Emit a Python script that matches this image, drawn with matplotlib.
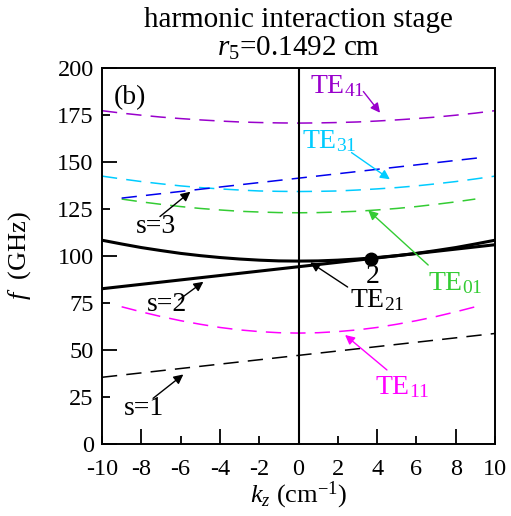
import matplotlib
matplotlib.use('Agg')
import matplotlib.pyplot as plt

plt.rcParams['font.family'] = ['Liberation Serif', 'DejaVu Serif']
plt.rcParams['mathtext.fontset'] = 'custom'
plt.rcParams['mathtext.rm'] = 'Liberation Serif'
plt.rcParams['mathtext.it'] = 'Liberation Serif:italic'

# dispersion curves (kz in cm^-1, f in GHz)
kz_full = [-10, -9, -8, -7, -6, -5, -4, -3, -2, -1, 0, 1, 2, 3, 4, 5, 6, 7, 8, 9, 10]
kz_part = [-9, -8, -7, -6, -5, -4, -3, -2, -1, 0, 1, 2, 3, 4, 5, 6, 7, 8, 9]

te41 = [177.3, 176.0, 174.9, 173.9, 173.1, 172.4, 171.8, 171.3, 171.0, 170.8, 170.7,
        170.8, 171.0, 171.3, 171.8, 172.4, 173.1, 173.9, 174.9, 176.0, 177.3]
te31 = [142.5, 141.0, 139.6, 138.4, 137.3, 136.4, 135.7, 135.1, 134.6, 134.4, 134.3,
        134.4, 134.6, 135.1, 135.7, 136.4, 137.3, 138.4, 139.6, 141.0, 142.5]
te21 = [108.4, 106.4, 104.5, 102.9, 101.4, 100.2, 99.2, 98.4, 97.8, 97.4, 97.3,
        97.4, 97.8, 98.4, 99.2, 100.2, 101.4, 102.9, 104.5, 106.4, 108.4]
te01 = [130.3, 128.8, 127.5, 126.3, 125.3, 124.5, 123.8, 123.4, 123.1, 123.0,
        123.1, 123.4, 123.8, 124.5, 125.3, 126.3, 127.5, 128.8, 130.3]
te11 = [73.0, 70.3, 67.8, 65.6, 63.7, 62.0, 60.7, 59.8, 59.2, 59.0,
        59.2, 59.8, 60.7, 62.0, 63.7, 65.6, 67.8, 70.3, 73.0]

# beam (cyclotron harmonic) lines
s1_kz, s1_f = [-10, 10], [35.5, 58.8]
s2_kz, s2_f = [-10, 10], [82.6, 106.0]
s3_kz, s3_f = [-9, 9.5], [130.8, 152.6]

# interaction point
pt_kz, pt_f = 3.7, 98.6

fig = plt.figure(figsize=(5.11, 5.16), dpi=100)
ax = fig.add_axes([0.1996, 0.1395, 0.7691, 0.7287])

dash = (0, (10, 6))
ax.plot(kz_full, te41, color='#9900cc', lw=1.1, ls=dash)
ax.plot(kz_full, te31, color='#00ccff', lw=1.1, ls=dash)
ax.plot(kz_part, te01, color='#33cc33', lw=1.1, ls=dash)
ax.plot(kz_part, te11, color='#ff00ff', lw=1.1, ls=dash)
ax.plot(s3_kz, s3_f, color='#0000ee', lw=1.1, ls=dash)
ax.plot(s1_kz, s1_f, color='black', lw=1.1, ls=dash)
ax.plot(kz_full, te21, color='black', lw=2.2)
ax.plot(s2_kz, s2_f, color='black', lw=2.2)
ax.axvline(0, color='black', lw=1.5)
ax.plot(pt_kz, pt_f, 'o', color='black', ms=9)

ax.set_xlim(-10, 10)
ax.set_ylim(0, 200)

# ticks: long majors, short minors, all labelled
ax.set_xticks([-8, -4, 0, 4, 8])
ax.set_xticks([-10, -6, -2, 2, 6, 10], minor=True)
ax.set_xticklabels(['-8', '-4', '0', '4', '8'])
ax.set_xticklabels(['-10', '-6', '-2', '2', '6', '10'], minor=True)
ax.set_yticks([0, 50, 100, 150, 200])
ax.set_yticks([25, 75, 125, 175], minor=True)
ax.set_yticklabels(['0', '50', '100', '150', '200'])
ax.set_yticklabels(['25', '75', '125', '175'], minor=True)
ax.tick_params(which='both', direction='in', labelsize=17.5, width=1.3)
ax.tick_params(which='major', length=10.5)
ax.tick_params(which='minor', length=6)
ax.tick_params(axis='x', which='both', pad=11)
ax.tick_params(axis='y', which='both', pad=6)
for sp in ax.spines.values():
    sp.set_linewidth(1.4)

ax.set_xlabel(r'$k_z$ (cm$^{\mathrm{-1}}$)', fontsize=19)
ax.set_ylabel(r'$f$  (GHz)', fontsize=19)
ax.xaxis.set_label_coords(0.5, -0.095)
ax.yaxis.set_label_coords(-0.175, 0.5)

ax.text(0.5, 1.128, 'harmonic interaction stage', transform=ax.transAxes,
        ha='center', va='center', fontsize=21)
ax.text(0.5, 1.052, r'$r_5$=0.1492 cm', transform=ax.transAxes,
        ha='center', va='center', fontsize=21)

ax.text(-9.4, 184.5, '(b)', fontsize=20, va='center')

arrow = dict(arrowstyle='-|>', lw=1.0, mutation_scale=14, shrinkA=0, shrinkB=0)

ax.annotate('', xy=(4.15, 176.2), xytext=(3.3, 187.5),
            arrowprops=dict(arrow, color='#9900cc'))
ax.text(0.6, 190.5, 'TE$_{41}$', color='#9900cc', fontsize=20, va='center')

ax.annotate('', xy=(4.65, 140.8), xytext=(2.7, 155.0),
            arrowprops=dict(arrow, color='#00ccff'))
ax.text(0.2, 161.0, 'TE$_{31}$', color='#00ccff', fontsize=20, va='center')

ax.annotate('', xy=(3.55, 124.3), xytext=(6.6, 95.2),
            arrowprops=dict(arrow, color='#33cc33'))
ax.text(6.6, 85.6, 'TE$_{01}$', color='#33cc33', fontsize=20, va='center')

ax.annotate('', xy=(0.6, 96.6), xytext=(2.5, 83.5),
            arrowprops=dict(arrow, color='black'))
ax.text(2.6, 76.6, 'TE$_{21}$', color='black', fontsize=20, va='center')

ax.text(3.8, 89.0, '2', color='black', fontsize=20, ha='center', va='center')

ax.annotate('', xy=(2.37, 58.0), xytext=(4.5, 39.4),
            arrowprops=dict(arrow, color='#ff00ff'))
ax.text(3.9, 30.3, 'TE$_{11}$', color='#ff00ff', fontsize=20, va='center')

ax.annotate('', xy=(-5.86, 37.0), xytext=(-7.4, 24.3),
            arrowprops=dict(arrow, color='black'))
ax.text(-8.9, 19.0, 's=1', color='black', fontsize=20, va='center')

ax.annotate('', xy=(-4.84, 86.3), xytext=(-6.1, 76.6),
            arrowprops=dict(arrow, color='black'))
ax.text(-7.7, 74.0, 's=2', color='black', fontsize=20, va='center')

ax.annotate('', xy=(-5.5, 134.2), xytext=(-7.05, 121.0),
            arrowprops=dict(arrow, color='black'))
ax.text(-8.3, 115.6, 's=3', color='black', fontsize=20, va='center')

fig.savefig('out.png', dpi=100)
